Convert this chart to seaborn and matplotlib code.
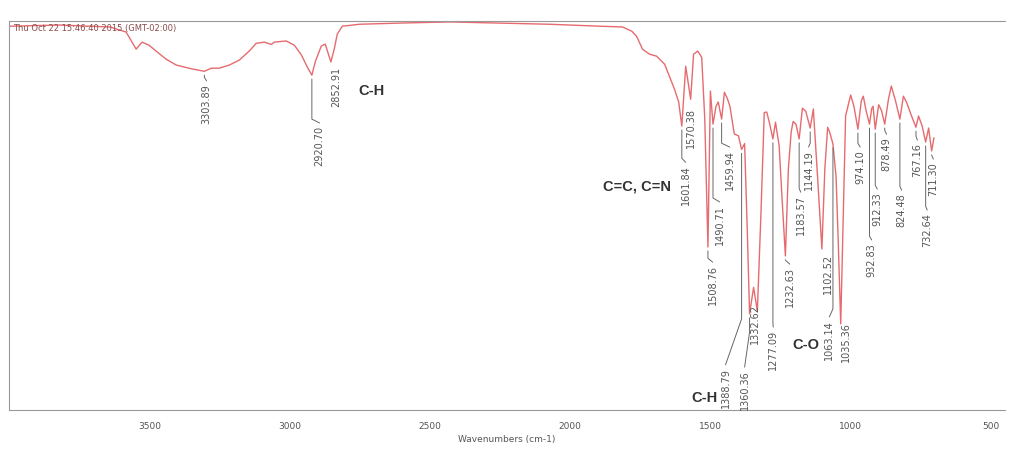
import matplotlib
matplotlib.use("Agg")
import matplotlib.pyplot as plt
from matplotlib.ticker import MultipleLocator
import seaborn as sns

# spectrum (wavenumber in cm-1, transmittance in %)
wavenumber = [4000, 3820, 3640, 3583, 3547, 3526, 3501, 3476, 3440, 3404, 3347, 3303.89,
              3279, 3251, 3215, 3179, 3144, 3119, 3090, 3065, 3055, 3012, 2983, 2958,
              2937, 2920.70, 2908, 2887, 2873, 2852.91, 2841, 2830, 2812, 2751, 2609,
              2430, 2252, 2073, 1895, 1813, 1780, 1763, 1742, 1717, 1692, 1663, 1645,
              1628, 1613, 1601.84, 1588, 1570.38, 1560, 1545, 1531, 1520, 1508.76, 1500,
              1490.71, 1480, 1472, 1459.94, 1450, 1440, 1430, 1415, 1400, 1388.79, 1378,
              1368, 1360.36, 1346, 1332.62, 1320, 1308, 1299, 1290, 1277.09, 1268, 1255,
              1245, 1232.63, 1222, 1212, 1205, 1195, 1183.57, 1172, 1160, 1144.19, 1133,
              1118, 1102.52, 1092, 1082, 1075, 1063.14, 1052, 1045, 1035.36, 1028, 1018,
              1000, 988, 974.10, 962, 955, 945, 932.83, 925, 920, 912.33, 900, 890,
              878.49, 865, 855, 840, 824.48, 812, 800, 785, 767.16, 758, 745, 732.64,
              722, 711.30, 703]
transmittance = [98.7, 99.0, 98.5, 97.2, 92.8, 94.6, 93.8, 92.3, 90.2, 88.7, 87.7, 87.1,
                 87.9, 87.9, 88.7, 90.0, 92.3, 94.3, 94.6, 94.0, 94.6, 94.9, 93.8, 91.3,
                 88.2, 86.1, 89.7, 93.6, 94.1, 89.5, 92.8, 96.7, 98.7, 99.2, 99.5,
                 99.8, 99.5, 99.2, 98.7, 98.5, 97.4, 96.1, 92.8, 91.5, 91.0, 88.9, 85.6,
                 82.5, 79.2, 73.0, 88.4, 79.9, 91.5, 92.3, 90.7, 74.8, 41.9, 82.0,
                 73.5, 78.1, 79.2, 74.8, 81.7, 80.2, 78.0, 71.0, 70.5, 67.0, 68.5,
                 45.0, 24.7, 31.5, 25.4, 50.0, 76.5, 76.6, 74.0, 69.7, 74.0, 68.0,
                 55.0, 39.6, 62.0, 71.5, 74.2, 73.5, 69.7, 77.6, 76.8, 72.5, 77.4,
                 60.0, 41.4, 62.0, 72.7, 71.5, 68.4, 60.0, 45.0, 22.1, 45.0, 75.6,
                 81.0, 78.0, 72.2, 79.5, 80.7, 77.0, 73.5, 77.5, 78.1, 72.2, 78.5, 77.0,
                 73.5, 80.0, 83.3, 79.5, 74.8, 80.7, 79.0, 76.0, 72.7, 75.6, 73.0, 68.9,
                 72.5, 66.6, 70.0]

# peak labels: peak position, where the label text sits, top of the text, leader bend
peak_wn = [3303.89, 2920.70, 2852.91, 1601.84, 1570.38, 1508.76, 1490.71, 1459.94,
           1388.79, 1360.36, 1332.62, 1277.09, 1232.63, 1183.57, 1144.19, 1102.52,
           1063.14, 1035.36, 974.10, 932.83, 912.33, 878.49, 824.48, 767.16, 732.64, 711.30]
label_wn = [3296, 2893, 2835, 1588, 1568, 1492, 1467, 1431,
            1446, 1378, 1340, 1276, 1217, 1178, 1150, 1082,
            1076, 1018, 966, 925, 905, 872, 818, 762, 727, 705]
label_top = [84.1, 73.3, 88.4, 63.2, 78.0, 37.5, 53.0, 67.1,
             11.1, 10.5, 27.5, 20.8, 37.0, 55.5, 67.1, 40.5,
             23.4, 22.9, 67.1, 43.2, 56.3, 70.4, 56.0, 68.9, 50.9, 64.0]
label_bend = [None, None, None, None, None, None, None, None,
              23.4, 20.0, None, None, None, None, None, None,
              26.0, None, None, None, None, None, None, None, None, None]

groups = ["C-H", "C=C, C=N", "C-H", "C-O"]
group_wn = [2709, 1760, 1520, 1160]
group_t = [82.3, 57.8, 3.3, 17.0]

sns.set_style("white")
plt.rcParams["font.family"] = ["DejaVu Sans"]

fig = plt.figure(figsize=(10.11, 4.52), dpi=100)
ax = fig.add_axes([0.009, 0.091, 0.985, 0.86])

sns.lineplot(x=wavenumber, y=transmittance, ax=ax, color="#e56b6f", lw=1.0,
             sort=False, estimator=None)

ax.set_xlim(4000, 450)
ax.set_ylim(0, 100)

t_at = dict(zip(wavenumber, transmittance))
for w, lw_, top, bend in zip(peak_wn, label_wn, label_top, label_bend):
    tp = t_at[w] - 1.0
    if bend is not None:
        ax.plot([w, w, lw_], [tp, bend, top + 0.5], color="#666666", lw=0.7)
    elif top < tp - 1:
        ax.plot([w, w, lw_], [tp, top + 1.5, top + 0.5], color="#666666", lw=0.7)
    ax.text(lw_, top, f"{w:.2f}", rotation=90, ha="center", va="top",
            fontsize=7, color="#555555")

for g, gw, gt in zip(groups, group_wn, group_t):
    ax.text(gw, gt, g, ha="center", va="center", fontsize=10.5,
            fontweight="bold", family="Liberation Sans", color="#333333")

ax.text(0.004, 0.995, "Thu Oct 22 15:46:40 2015 (GMT-02:00)", transform=ax.transAxes,
        ha="left", va="top", fontsize=6, color="#8a4b4b")

for side in ["left", "top", "bottom"]:
    ax.spines[side].set_color("#999999")
    ax.spines[side].set_linewidth(0.8)
ax.spines["right"].set_visible(False)

ax.set_yticks([])
ax.set_xticks([3500, 3000, 2500, 2000, 1500, 1000, 500])
ax.xaxis.set_minor_locator(MultipleLocator(100))
ax.tick_params(axis="x", which="major", direction="inout", length=6, width=0.6,
               color="#777777", labelsize=6.5, labelcolor="#555555", pad=5)
ax.tick_params(axis="x", which="minor", direction="inout", length=3, width=0.5,
               color="#999999")
ax.set_xlabel("Wavenumbers (cm-1)", fontsize=6.5, color="#555555", labelpad=3)

fig.savefig("out.png", dpi=100)
